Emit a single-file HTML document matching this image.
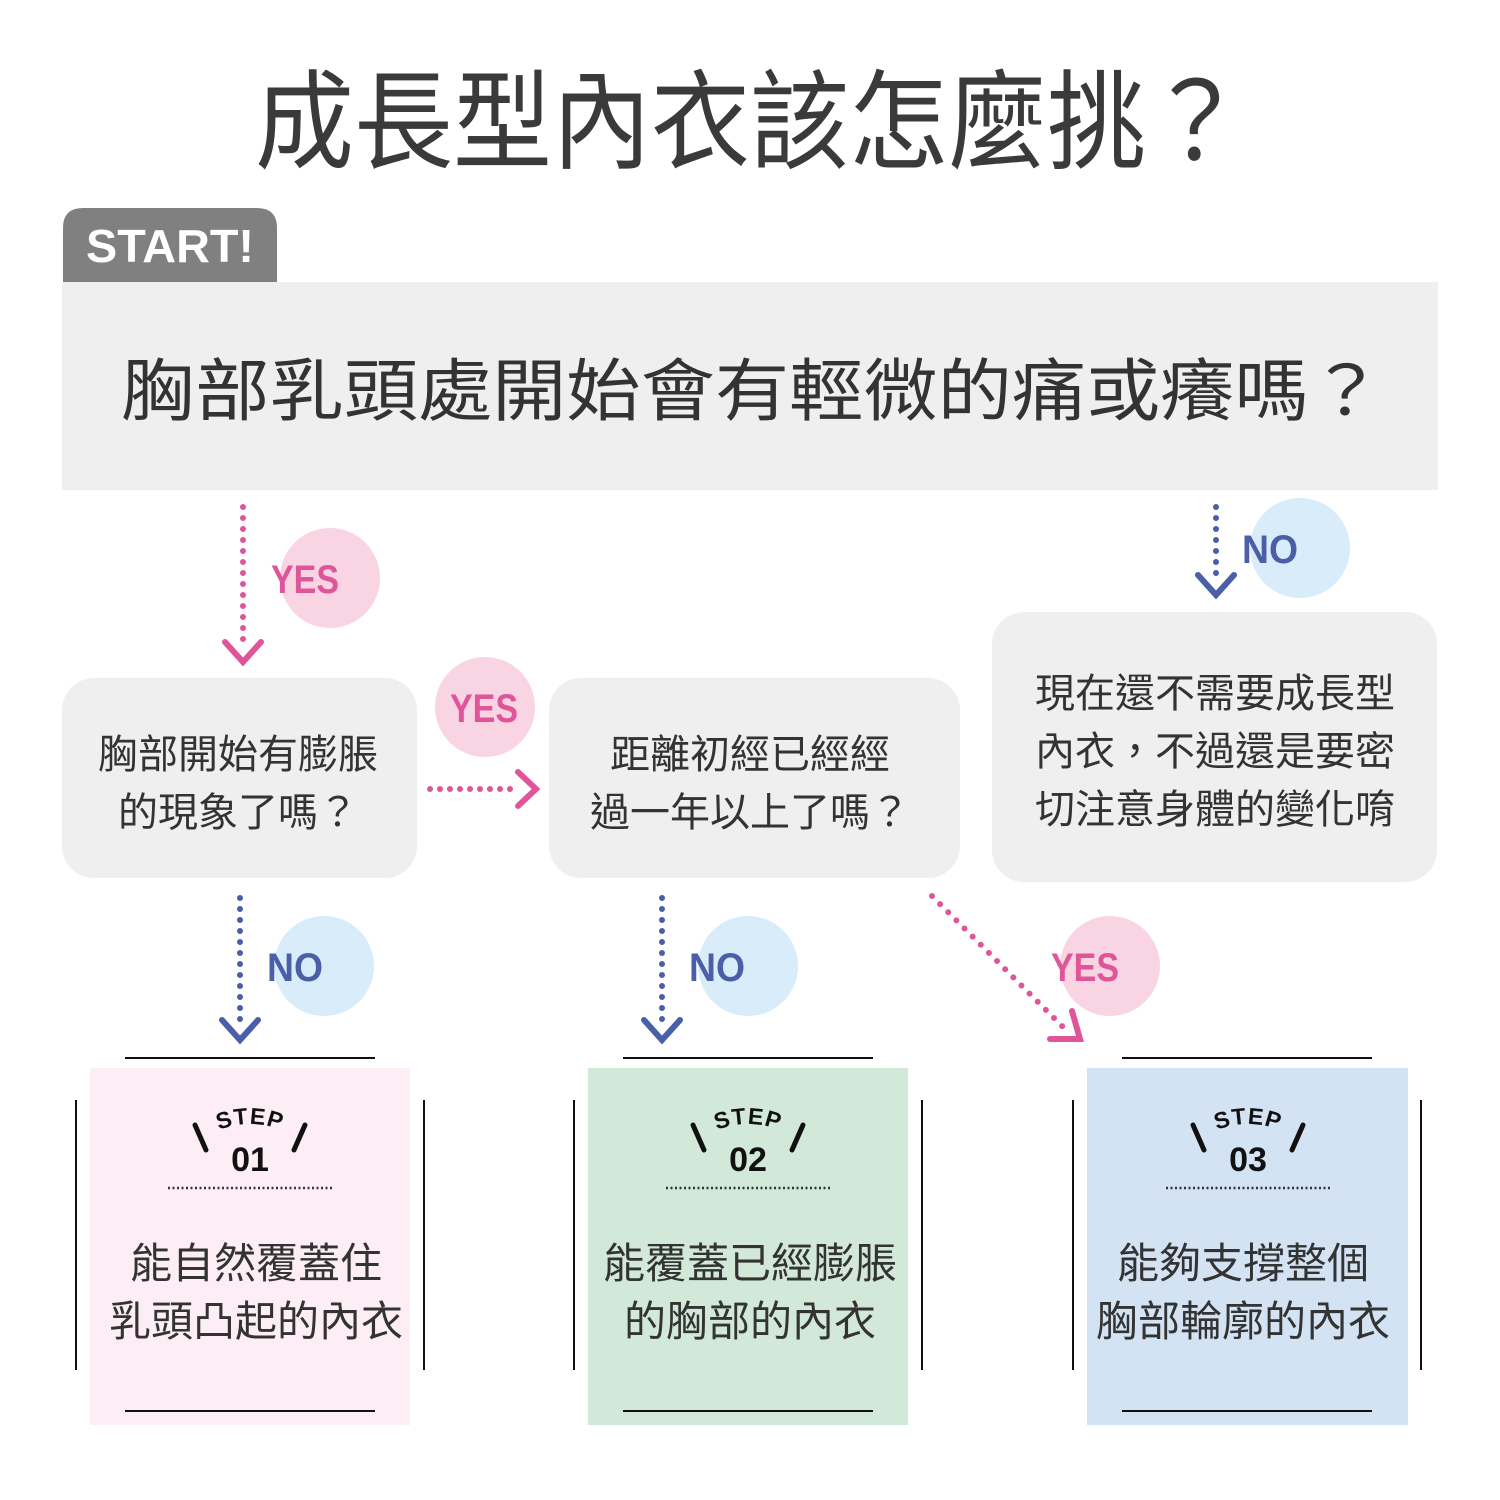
<!DOCTYPE html>
<html><head><meta charset="utf-8"><style>
html,body{margin:0;padding:0;background:#fff;}
svg{display:block}
text{font-family:"Liberation Sans","Noto Sans CJK TC",sans-serif;}
</style></head><body>
<svg width="1500" height="1500" viewBox="0 0 1500 1500" xmlns="http://www.w3.org/2000/svg">
<defs>
<g id="step">
  <line x1="-55" y1="-25" x2="-44" y2="0" stroke="#111" stroke-width="5" stroke-linecap="round"/>
  <line x1="55" y1="-25" x2="44" y2="0" stroke="#111" stroke-width="5" stroke-linecap="round"/>
  <line x1="-82" y1="38" x2="82" y2="38" stroke="#333" stroke-width="2.5" stroke-dasharray="2,2.5"/>
</g>
<path id="arc1" d="M210,1134 Q250,1114 290,1134" fill="none"/>
<path id="arc2" d="M708,1134 Q748,1114 788,1134" fill="none"/>
<path id="arc3" d="M1208,1134 Q1248,1114 1288,1134" fill="none"/>
</defs>
<text x="750" y="160" font-size="108" fill="#3a3a3a" text-anchor="middle" textLength="990" lengthAdjust="spacingAndGlyphs">成長型內衣該怎麼挑？</text>
<path d="M63,283 V228 Q63,208 83,208 H257 Q277,208 277,228 V283 Z" fill="#808080"/>
<text x="170" y="262" font-size="46" font-weight="bold" fill="#fff" text-anchor="middle" textLength="168" lengthAdjust="spacingAndGlyphs">START!</text>
<rect x="62" y="282" width="1376" height="208" fill="#efefef"/>
<text x="752" y="415" font-size="68" fill="#333" text-anchor="middle" textLength="1262" lengthAdjust="spacingAndGlyphs">胸部乳頭處開始會有輕微的痛或癢嗎？</text>

<circle cx="330" cy="578" r="50" fill="#f9d5e4"/>
<circle cx="485" cy="707" r="50" fill="#f9d5e4"/>
<circle cx="1110" cy="966" r="50" fill="#f9d5e4"/>
<circle cx="1300" cy="548" r="50" fill="#d8ecfa"/>
<circle cx="324" cy="966" r="50" fill="#d8ecfa"/>
<circle cx="748" cy="966" r="50" fill="#d8ecfa"/>

<g stroke="#e0559a" stroke-width="6" stroke-linecap="round" fill="none">
  <line x1="243" y1="507" x2="243" y2="645" stroke-dasharray="0,11"/>
  <polyline points="225,642 243,662 261,642"/>
  <line x1="430" y1="789" x2="520" y2="789" stroke-dasharray="0,10"/>
  <polyline points="518,772 536,789 518,806"/>
  <line x1="932" y1="896" x2="1066" y2="1030" stroke-dasharray="0,11.5"/>
  <polyline points="1072,1011 1080,1039 1050,1039"/>
</g>
<g stroke="#4a5fa8" stroke-width="6" stroke-linecap="round" fill="none">
  <line x1="1216" y1="507" x2="1216" y2="583" stroke-dasharray="0,11"/>
  <polyline points="1198,575 1216,595 1234,575"/>
  <line x1="240" y1="898" x2="240" y2="1025" stroke-dasharray="0,11"/>
  <polyline points="222,1020 240,1040 258,1020"/>
  <line x1="662" y1="898" x2="662" y2="1025" stroke-dasharray="0,11"/>
  <polyline points="644,1020 662,1040 680,1020"/>
</g>
<g font-size="40" font-weight="bold">
<text x="271" y="593" fill="#e0559a" textLength="68" lengthAdjust="spacingAndGlyphs">YES</text>
<text x="450" y="722" fill="#e0559a" textLength="68" lengthAdjust="spacingAndGlyphs">YES</text>
<text x="1051" y="981" fill="#e0559a" textLength="68" lengthAdjust="spacingAndGlyphs">YES</text>
<text x="1242" y="563" fill="#4a5fa8" textLength="56" lengthAdjust="spacingAndGlyphs">NO</text>
<text x="267" y="981" fill="#4a5fa8" textLength="56" lengthAdjust="spacingAndGlyphs">NO</text>
<text x="689" y="981" fill="#4a5fa8" textLength="56" lengthAdjust="spacingAndGlyphs">NO</text>
</g>

<rect x="62" y="678" width="355" height="200" rx="32" fill="#efefef"/>
<rect x="549" y="678" width="411" height="200" rx="32" fill="#efefef"/>
<rect x="992" y="612" width="445" height="270" rx="32" fill="#efefef"/>
<g font-size="40" fill="#333" text-anchor="middle">
<text x="238" y="768">胸部開始有膨脹</text>
<text x="238" y="826">的現象了嗎？</text>
<text x="750" y="768">距離初經已經經</text>
<text x="750" y="826">過一年以上了嗎？</text>
<text x="1215" y="707">現在還不需要成長型</text>
<text x="1215" y="765">內衣，不過還是要密</text>
<text x="1215" y="823">切注意身體的變化唷</text>
</g>

<rect x="90" y="1068" width="320" height="357" fill="#fdeef5"/>
<rect x="588" y="1068" width="320" height="357" fill="#d2e8d9"/>
<rect x="1087" y="1068" width="321" height="357" fill="#d3e3f3"/>
<g stroke="#111" stroke-width="2">
<line x1="125" y1="1058" x2="375" y2="1058"/><line x1="125" y1="1411" x2="375" y2="1411"/>
<line x1="76" y1="1100" x2="76" y2="1370"/><line x1="424" y1="1100" x2="424" y2="1370"/>
<line x1="623" y1="1058" x2="873" y2="1058"/><line x1="623" y1="1411" x2="873" y2="1411"/>
<line x1="574" y1="1100" x2="574" y2="1370"/><line x1="922" y1="1100" x2="922" y2="1370"/>
<line x1="1122" y1="1058" x2="1372" y2="1058"/><line x1="1122" y1="1411" x2="1372" y2="1411"/>
<line x1="1073" y1="1100" x2="1073" y2="1370"/><line x1="1421" y1="1100" x2="1421" y2="1370"/>
</g>
<use href="#step" x="250" y="1150"/>
<use href="#step" x="748" y="1150"/>
<use href="#step" x="1248" y="1150"/>
<g font-weight="bold" fill="#111" text-anchor="middle">
<text font-size="23" letter-spacing="1"><textPath href="#arc1" startOffset="50%">STEP</textPath></text>
<text x="250" y="1171" font-size="34">01</text>
<text font-size="23" letter-spacing="1"><textPath href="#arc2" startOffset="50%">STEP</textPath></text>
<text x="748" y="1171" font-size="34">02</text>
<text font-size="23" letter-spacing="1"><textPath href="#arc3" startOffset="50%">STEP</textPath></text>
<text x="1248" y="1171" font-size="34">03</text>
</g>
<g font-size="42" fill="#333" text-anchor="middle">
<text x="256" y="1278">能自然覆蓋住</text>
<text x="256" y="1336">乳頭凸起的內衣</text>
<text x="750" y="1278">能覆蓋已經膨脹</text>
<text x="750" y="1336">的胸部的內衣</text>
<text x="1243" y="1278">能夠支撐整個</text>
<text x="1243" y="1336">胸部輪廓的內衣</text>
</g>
</svg>
</body></html>
